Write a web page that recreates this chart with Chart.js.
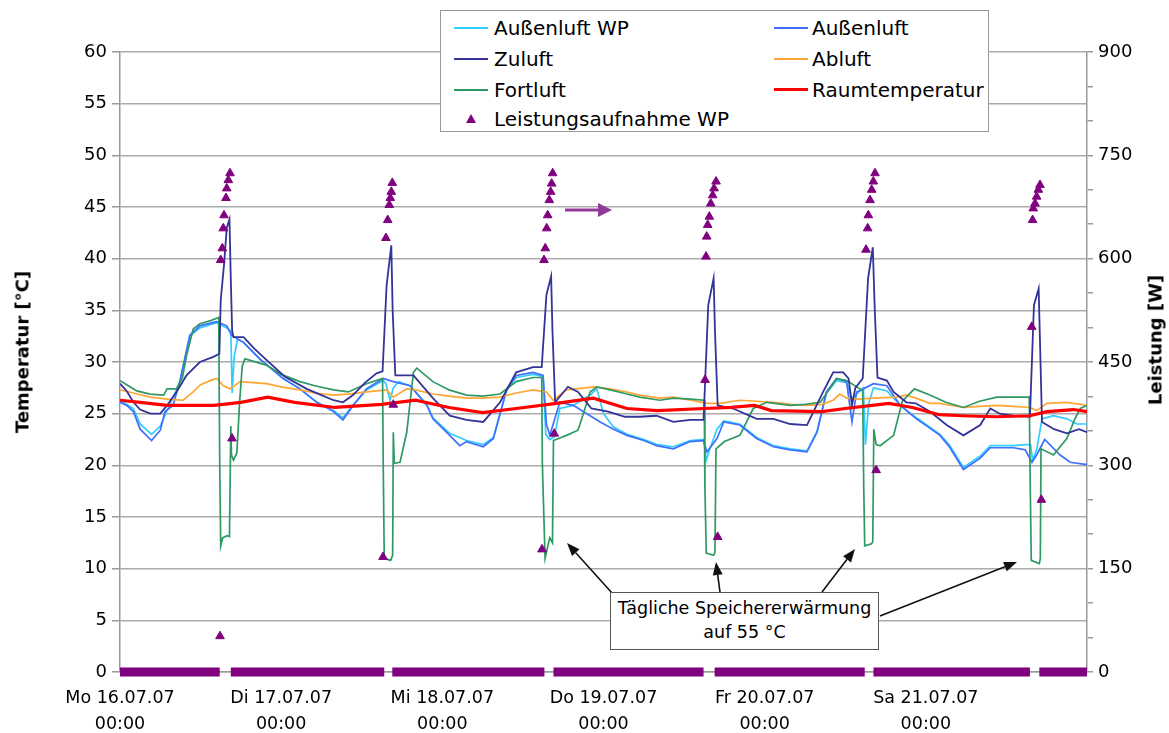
<!DOCTYPE html>
<html>
<head>
<meta charset="utf-8">
<script src="https://cdn.jsdelivr.net/npm/chart.js@4.4.1/dist/chart.umd.min.js"></script>
<style>
html,body{margin:0;padding:0;background:#fff;}
#wrap{position:relative;width:1169px;height:733px;overflow:hidden;font-family:"DejaVu Sans",sans-serif;color:#000;}
#c{position:absolute;left:0;top:0;}
#legend{position:absolute;left:440px;top:10px;width:547px;height:120px;border:1.5px solid #9a9a9a;background:#fff;}
.lt{position:absolute;font-size:20px;line-height:24px;white-space:nowrap;}
.ls{position:absolute;width:34px;}
.tri{position:absolute;width:0;height:0;border-left:5px solid transparent;border-right:5px solid transparent;border-bottom:9px solid #800080;}
.atitle{position:absolute;font-weight:bold;font-size:18px;white-space:nowrap;transform:translate(-50%,-50%) rotate(-90deg);}
#note{position:absolute;left:610px;top:592px;width:267px;height:53px;border:1.5px solid #555;background:#fff;text-align:center;font-size:17.5px;line-height:24px;padding-top:3px;box-sizing:content-box;}
</style>
</head>
<body>
<div id="wrap">
<canvas id="c" width="1169" height="733"></canvas>
<div id="legend">
  <div class="ls" style="left:13px;top:16px;height:2px;background:#33CCFF"></div>
  <div class="lt" style="left:53px;top:5px">Außenluft WP</div>
  <div class="ls" style="left:333px;top:16px;height:2px;background:#3F6FFF"></div>
  <div class="lt" style="left:371px;top:5px">Außenluft</div>
  <div class="ls" style="left:13px;top:47px;height:2px;background:#333399"></div>
  <div class="lt" style="left:53px;top:36px">Zuluft</div>
  <div class="ls" style="left:333px;top:47px;height:2px;background:#FFA533"></div>
  <div class="lt" style="left:371px;top:36px">Abluft</div>
  <div class="ls" style="left:13px;top:78px;height:2px;background:#2E9963"></div>
  <div class="lt" style="left:53px;top:67px">Fortluft</div>
  <div class="ls" style="left:333px;top:77px;height:3px;background:#FF0000"></div>
  <div class="lt" style="left:371px;top:67px">Raumtemperatur</div>
  <div class="tri" style="left:25px;top:103px"></div>
  <div class="lt" style="left:53px;top:96px">Leistungsaufnahme WP</div>
</div>
<div class="atitle" style="left:22px;top:352px">Temperatur [°C]</div>
<div class="atitle" style="left:1155px;top:340px">Leistung [W]</div>
<div id="note">Tägliche Speichererwärmung<br>auf 55 °C</div>
</div>
<script>
// ---- x axis: hours since Mo 16.07.07 00:00 ----
const dayLabels = ['Mo 16.07.07','Di 17.07.07','Mi 18.07.07','Do 19.07.07','Fr 20.07.07','Sa 21.07.07'];
const timeLabel = '00:00';
const tempTicks = {min:0, max:60, step:5};
const powerTicks = {min:0, max:900, step:50, labelStep:150};

// ---- series: [hour, °C] ----
const aussenluftWP = [[0,26.3],[2,25.5],[3,24],[4.7,23],[6,23.8],[7,25.3],[8.9,28],[10.4,32.5],[11.9,33.3],[14.4,33.8],[15.9,33.3],[16.5,33],[16.7,27],[17,30.5],[17.5,32.2],[18.4,31.9],[20.8,30.3],[24.3,28.4],[26.8,27.4],[29.3,26.1],[31.8,25.3],[33.2,24.6],[34.7,25.8],[36.7,27.3],[39.2,28.2],[39.6,27.9],[40.2,26.3],[40.7,27.5],[41.5,28.1],[43.2,27.7],[45.7,25.9],[46.6,24.6],[49.1,23.1],[51.6,22.4],[54.1,22],[55.6,22.7],[57.6,27.3],[59,28.5],[61.5,28.8],[63,28.6],[63.4,23],[64,22.5],[64.7,22.8],[65.5,25.5],[67.5,25.8],[70,26.8],[71,27.4],[72,25],[73.5,23.7],[75.5,23],[78,22.5],[80,22],[82.4,21.8],[84.9,22.4],[86.9,22.5],[87.3,20.5],[87.8,21.5],[88.9,23.5],[89.9,24.3],[92.3,24],[94.8,22.7],[97.3,21.9],[99.8,21.6],[102.3,21.4],[103.8,23.3],[105.2,27],[106.7,28.2],[108.2,28],[109,26.5],[110.7,27.5],[111,22],[111.5,26],[112.2,27.5],[114.2,27.2],[116.2,25.8],[118.6,24.6],[120.6,23.7],[122.1,23],[123.5,22],[125.6,19.8],[128.1,20.9],[129.6,21.9],[133.1,21.9],[134.8,22],[135.6,22],[135.9,20.5],[136.5,21.5],[137.3,24.5],[139,24.8],[141,24.5],[142.5,24],[144,24]];
const aussenluft = [[0,26.1],[1,25.8],[2,25.2],[3,23.5],[4.7,22.4],[6,23.4],[6.7,25.2],[7.9,25.8],[8.9,28.1],[10.4,32.6],[11.9,33.5],[14.4,33.9],[15.9,33.5],[16.6,32.6],[18.4,31.9],[20.8,30.3],[24.3,28.4],[26.8,27.4],[29.3,26.1],[31.8,25.2],[33.2,24.4],[34.7,25.8],[36.7,27.4],[39.2,28.4],[40.7,28.1],[43.2,27.7],[45.7,25.8],[46.6,24.5],[49.1,22.9],[50.6,21.9],[51.6,22.3],[54.1,21.8],[55.6,22.6],[57.6,27.4],[59,28.7],[61.5,29],[63,28.7],[63.5,24],[64,22.9],[65.5,26.1],[67.5,25.8],[70,24.8],[71.5,24.2],[73.5,23.5],[75.5,22.9],[78,22.4],[79.9,21.9],[82.4,21.6],[84.9,22.3],[86.9,22.4],[87.4,21.3],[88.9,22.6],[89.9,24.2],[92.3,23.9],[94.8,22.6],[97.3,21.8],[99.8,21.5],[102.3,21.3],[103.8,23.2],[105.2,27.1],[106.7,28.4],[108.2,28.1],[109,24.2],[109.7,27.1],[110.7,27.4],[112.2,27.9],[114.2,27.7],[116.2,25.8],[118.6,24.5],[120.6,23.6],[122.1,22.9],[123.5,21.8],[125.6,19.6],[128.1,20.7],[129.6,21.7],[133.1,21.7],[134.8,21.5],[135.8,20.3],[136.5,21],[137.7,22.5],[140,21],[141.5,20.3],[143.7,20.1],[144,20.1]];
const zuluft = [[0,27.9],[1,27.2],[2,26.1],[3,25.4],[4.5,25],[6,25],[7,25.8],[8.4,27.1],[9.9,28.7],[11.9,30],[13.9,30.5],[14.8,30.8],[15.0,36],[15.5,39.5],[15.9,43],[16.3,43.8],[16.5,38],[16.7,33],[16.9,32.4],[18.4,32.4],[20,31.3],[21.8,30.2],[24.5,28.6],[27.8,27.4],[30,26.8],[31.8,26.3],[33.2,26.1],[34.7,26.8],[36.5,28],[38.2,28.9],[39.1,29.1],[39.7,37.4],[40.4,41.3],[40.6,35],[41,28.7],[43.7,28.7],[46.6,26.5],[49.1,24.8],[51.6,24.4],[54.1,24.2],[56.6,26.1],[59,29],[61.5,29.5],[62.8,29.5],[63.5,36.5],[64.2,38.3],[64.4,33],[64.8,26.1],[66.7,27.6],[68.2,27.1],[70.2,25.5],[72.7,25.2],[75.2,24.7],[77.4,24.7],[79.9,24.8],[82.4,24.2],[84.9,24.4],[86.9,24.4],[87.6,35.5],[88.4,38.1],[88.6,33],[89,25.8],[91.3,25.5],[94.8,24.5],[97.3,24.5],[99.8,24],[102.3,23.9],[104.7,27.1],[106.2,29],[107.7,29],[108.5,28.4],[109,25.8],[109.5,27.5],[110.6,28.4],[111.4,38.1],[112.1,41.1],[112.4,35],[112.8,28.5],[114.2,28.2],[115.2,27.1],[117.1,26.1],[118.5,26],[120.6,25.2],[123.1,23.9],[125.6,22.9],[128.1,23.9],[129.6,25.5],[131,25],[133.1,24.8],[135.5,24.7],[136.1,35.5],[136.8,37.1],[137.0,32],[137.3,24.2],[139.1,23.5],[141,23.1],[142.8,23.5],[144,23.2]];
const abluft = [[0,27.3],[2,27],[4.5,26.6],[7,26.4],[9.4,26.3],[10.9,27.1],[12,27.8],[13.4,28.2],[14.4,28.4],[15.4,27.7],[16.4,27.4],[17.9,28.1],[21.8,27.9],[24,27.6],[26.8,27.3],[29,27],[31.8,26.8],[34,26.9],[36.7,27.1],[39.7,27.3],[40.7,26.6],[42.7,27.4],[44,27.3],[46.6,26.9],[49,26.7],[51.6,26.5],[54,26.5],[56.6,26.6],[59,27],[61.5,27.3],[63.5,27.1],[64.5,26.3],[66.5,27.3],[68,27.4],[70.5,27.6],[73,27.4],[75.5,27.1],[77.4,26.8],[80.4,26.5],[82.4,26.6],[85,26.3],[87.4,26],[89.3,26],[92.3,26.3],[94.8,26.2],[97.3,26.1],[100,25.9],[102.3,25.8],[104.5,25.9],[106.2,26.3],[107.2,26.9],[108.2,26.5],[110,26.4],[112.2,26.5],[115.6,26.6],[117.1,26.8],[118.5,26.5],[120.6,26],[122.1,26],[125.6,25.6],[128,25.7],[130.6,25.8],[133,25.7],[135.5,25.6],[136.5,25.3],[138,26],[141,26.1],[143,25.9],[144,25.8]];
const fortluft = [[0,28.2],[1,27.8],[2.5,27.2],[4.5,26.9],[6.5,26.8],[7,27.4],[8.4,27.4],[9.3,28.5],[9.9,30.6],[10.9,33.2],[11.9,33.7],[13.5,34],[14.7,34.3],[14.85,20],[15.0,12.2],[15.3,13],[16.0,13.2],[16.3,13.1],[16.5,23.8],[16.6,21],[16.9,20.5],[17.4,21.2],[17.8,26],[18.2,29.6],[18.6,30.3],[21.8,29.7],[24,28.8],[26.8,28.1],[29,27.7],[31.8,27.3],[34,27.1],[36.7,27.9],[39.1,28.4],[39.2,20],[39.35,11],[40.3,10.8],[40.6,11.3],[40.7,23.2],[40.85,20.2],[41.7,20.3],[42.7,23.2],[43.7,29],[44.2,29.4],[46.6,28.1],[49,27.3],[51.6,26.8],[54,26.7],[56.6,26.9],[59,28.1],[61.5,28.5],[62.8,28.5],[62.9,20],[63.3,11],[64.0,13],[64.4,12.5],[64.55,22.4],[66.5,22.9],[68.2,23.4],[69,25],[70,27.1],[71,27.6],[73,27.3],[75.5,26.9],[77.4,26.6],[80.4,26.3],[82.4,26.5],[85,26.4],[87.0,26.3],[87.1,18],[87.3,11.5],[88.4,11.3],[88.6,11.6],[88.75,21.6],[90,22.3],[92.3,22.9],[94.3,25.5],[96.3,26.1],[99.8,25.8],[102,25.9],[104.3,26.1],[106.7,28.4],[108.2,28.2],[110.2,27.4],[110.6,27.2],[110.75,18],[110.9,12.2],[111.9,12.4],[112.1,12.6],[112.25,23.5],[112.6,22],[113.2,21.9],[115.2,22.9],[116.5,26.2],[118.3,27.4],[120.6,26.8],[123,26.1],[125.6,25.6],[128,26.2],[130.6,26.6],[133,26.6],[135.4,26.6],[135.55,18],[135.7,10.8],[136.9,10.5],[137.05,11],[137.15,21.6],[139,21],[141,22.6],[142.2,24.5],[143,25.5],[144,25.8]];
const raumtemperatur = [[0,26.3],[3,26.1],[7,25.8],[14,25.8],[18,26.1],[22,26.6],[26,26.1],[32,25.6],[39,25.9],[44,26.3],[49,25.6],[54,25.1],[59,25.5],[65,26],[70.5,26.5],[75.5,25.5],[80,25.3],[87,25.5],[91,25.6],[94.5,25.8],[97,25.3],[104.5,25.2],[108,25.5],[112,25.8],[114.5,26],[118,25.6],[122,24.9],[125.5,24.8],[130.5,24.7],[135.5,24.8],[138,25.2],[142,25.4],[144,25.2]];

// ---- Leistungsaufnahme WP [W] while heating ----
const powerHours = [14.89,15.0,15.24,15.38,15.49,15.78,15.89,16.13,16.38,16.68, 39.17,39.6,39.87,40.1,40.25,40.4,40.55,40.7, 62.84,63.14,63.33,63.54,63.69,63.93,64.13,64.28,64.43,64.67, 87.12,87.27,87.37,87.52,87.76,87.97,88.26,88.46,88.76,89.0, 111.09,111.34,111.44,111.69,111.94,112.18,112.43,112.6, 135.77,135.9,136.0,136.26,136.5,136.75,137.0,137.2];
const powerWatts = [52,598,615,644,663,688,702,714,724,339, 167,630,656,678,688,697,710,388, 178,598,615,644,663,685,697,709,724,346, 424,603,632,649,661,680,692,702,712,196, 613,644,663,685,700,712,724,293, 501,656,673,680,690,700,707,250];
// periods with 0 W (start hour, end hour)
const zeroStart = [0,16.5,40.55,64.55,88.55,112.2,136.9];
const zeroEnd   = [14.85,39.35,63.2,86.9,110.9,135.5,144];

// ---- annotation arrows in data coords [h1,T1,h2,T2] ----
const noteArrows = [[73.27,7.65,66.57,12.48],[89.35,7.74,88.75,10.65],[104.54,7.74,109.45,11.9],[113.17,5.42,133.58,10.65]];
const axisArrow = [66.27,44.71,73.27,44.71];

const toXY = a => a.map(p => ({x:p[0], y:p[1]}));
const powerPts = powerHours.map((h,i) => ({x:h, y:powerWatts[i]}));
const zeroPts = [];
zeroStart.forEach((s,i) => { zeroPts.push({x:s,y:0},{x:zeroEnd[i],y:0},{x:zeroEnd[i]+0.01,y:null}); });

function line(label, arr, color, width, order){
  return {type:'line', label, data:toXY(arr), borderColor:color, backgroundColor:color,
    borderWidth:width, pointRadius:0, pointHoverRadius:0, tension:0, yAxisID:'y', order};
}

function drawArrow(ctx, x1,y1,x2,y2, color, lw, hl, hw){
  const ang = Math.atan2(y2-y1, x2-x1);
  const bx = x2 - hl*Math.cos(ang), by = y2 - hl*Math.sin(ang);
  ctx.save();
  ctx.strokeStyle = color; ctx.fillStyle = color; ctx.lineWidth = lw;
  ctx.beginPath(); ctx.moveTo(x1,y1); ctx.lineTo(bx,by); ctx.stroke();
  ctx.beginPath(); ctx.moveTo(x2,y2);
  ctx.lineTo(bx + hw*Math.sin(ang), by - hw*Math.cos(ang));
  ctx.lineTo(bx - hw*Math.sin(ang), by + hw*Math.cos(ang));
  ctx.closePath(); ctx.fill();
  ctx.restore();
}

const arrowPlugin = {
  id:'arrows',
  afterDatasetsDraw(chart){
    const {ctx} = chart; const xs = chart.scales.x, ys = chart.scales.y;
    noteArrows.forEach(a => drawArrow(ctx, xs.getPixelForValue(a[0]), ys.getPixelForValue(a[1]),
      xs.getPixelForValue(a[2]), ys.getPixelForValue(a[3]), '#111', 1.6, 13, 5));
    drawArrow(ctx, xs.getPixelForValue(axisArrow[0]), ys.getPixelForValue(axisArrow[1]),
      xs.getPixelForValue(axisArrow[2]), ys.getPixelForValue(axisArrow[3]), '#93399A', 3, 14, 7);
  }
};

Chart.defaults.font.family = "'DejaVu Sans', sans-serif";
Chart.defaults.font.size = 18;
Chart.defaults.color = '#000';

new Chart(document.getElementById('c'), {
  data:{
    datasets:[
      {type:'scatter', label:'Leistungsaufnahme WP', data:powerPts, yAxisID:'y1', pointStyle:'triangle',
        pointRadius:5, pointHoverRadius:5, backgroundColor:'#800080', borderColor:'#800080', borderWidth:1, order:0, clip:false},
      {type:'line', label:'Leistungsaufnahme WP 0 W', data:zeroPts, yAxisID:'y1', borderColor:'#800080',
        borderWidth:9, pointRadius:0, borderCapStyle:'butt', spanGaps:false, order:1, clip:false},
      line('Raumtemperatur', raumtemperatur, '#FF0000', 3.2, 2),
      line('Zuluft', zuluft, '#333399', 1.8, 3),
      line('Fortluft', fortluft, '#2E9963', 1.7, 4),
      line('Abluft', abluft, '#FFA533', 1.7, 5),
      line('Außenluft', aussenluft, '#3F6FFF', 1.7, 6),
      line('Außenluft WP', aussenluftWP, '#33CCFF', 1.7, 7)
    ]
  },
  options:{
    responsive:false, animation:false, events:[],
    layout:{padding:{top:52,left:0,right:0,bottom:0}},
    plugins:{legend:{display:false}, tooltip:{enabled:false}},
    scales:{
      x:{type:'linear', position:'bottom', min:0, max:144,
        ticks:{stepSize:24, autoSkip:false, maxRotation:0, padding:14, font:{size:17.5, lineHeight:1.45},
          callback:(v) => { const i = Math.round(v/24); return (Math.abs(v - i*24) < 1e-6 && i < dayLabels.length) ? [dayLabels[i], timeLabel] : ''; }},
        grid:{drawOnChartArea:false, drawTicks:false},
        border:{color:'#999', width:1.5},
        afterFit(s){ s.height = 61; }},
      y:{type:'linear', position:'left', min:tempTicks.min, max:tempTicks.max,
        ticks:{stepSize:tempTicks.step, padding:5, font:{size:18}},
        grid:{color:'#ababab', lineWidth:1.5, tickLength:8, tickColor:'#999'},
        border:{color:'#999', width:1.5},
        afterFit(s){ s.width = 120; }},
      y1:{type:'linear', position:'right', min:powerTicks.min, max:powerTicks.max,
        ticks:{stepSize:powerTicks.step, autoSkip:false, padding:5, font:{size:18},
          callback:(v) => (v % powerTicks.labelStep === 0 ? String(v) : '')},
        grid:{drawOnChartArea:false, tickLength:6, color:'#999', lineWidth:1.5},
        border:{color:'#999', width:1.5},
        afterFit(s){ s.width = 82; }}
    }
  },
  plugins:[arrowPlugin]
});
</script>
</body>
</html>
